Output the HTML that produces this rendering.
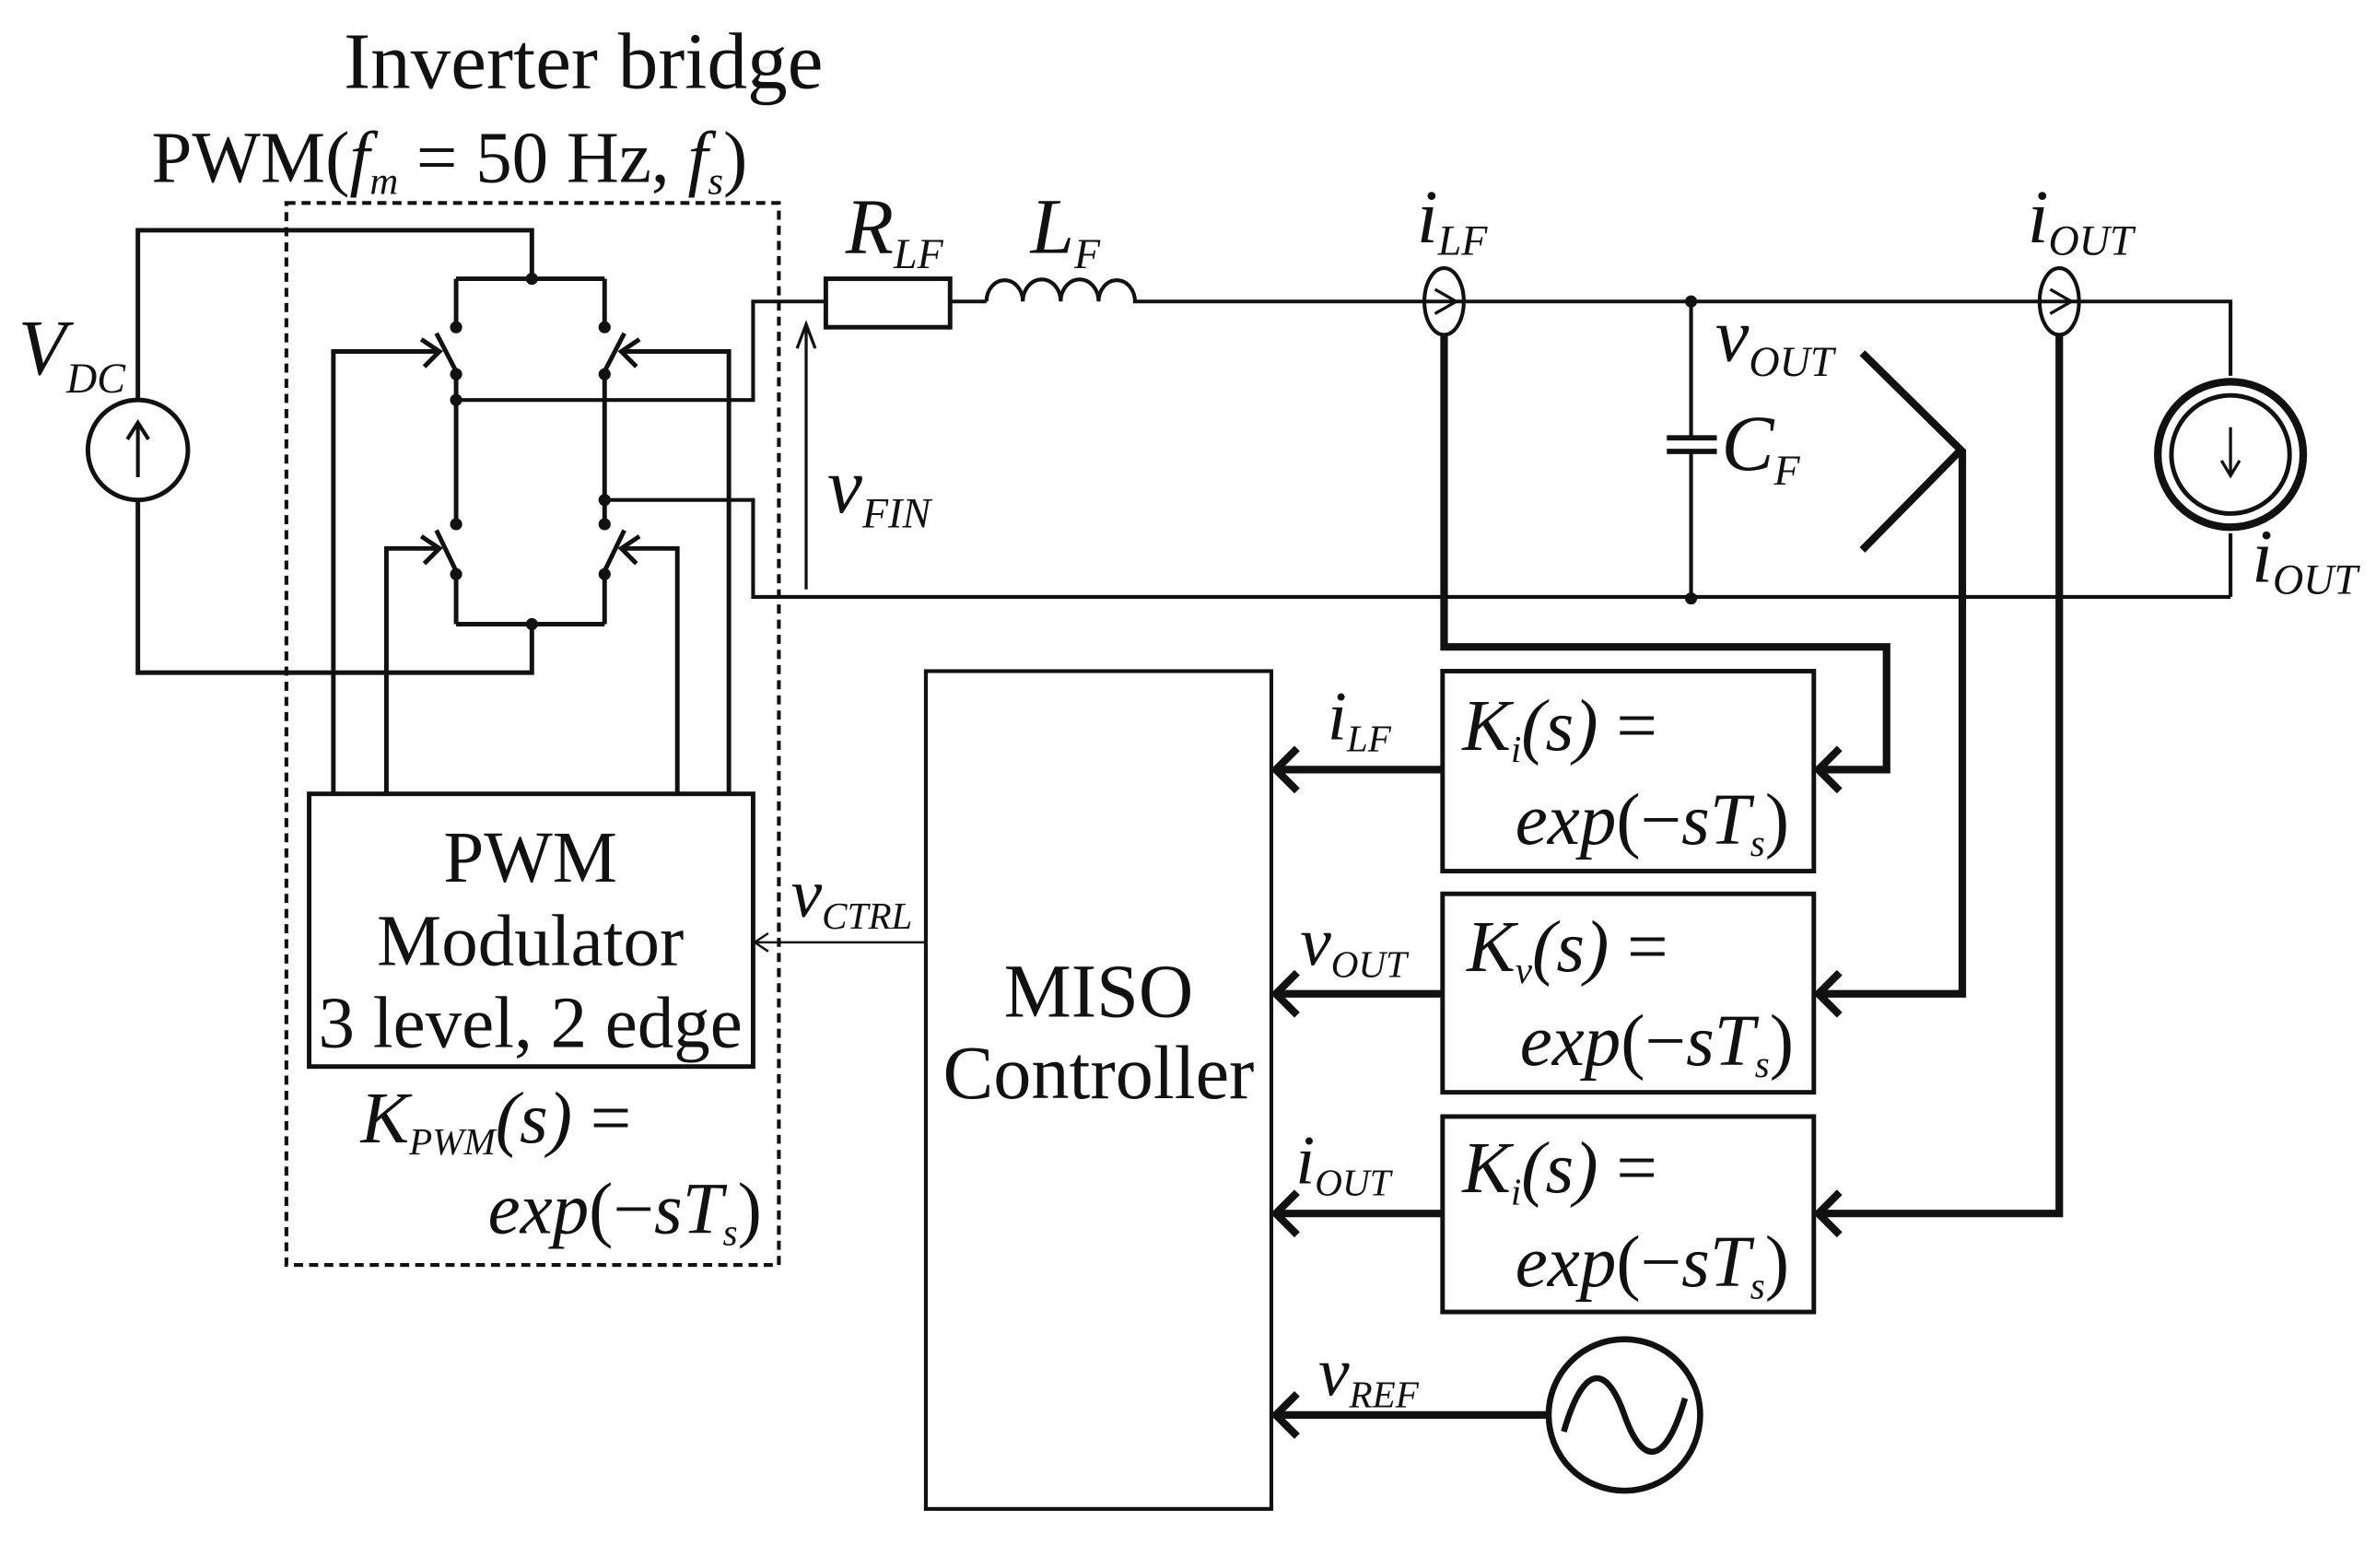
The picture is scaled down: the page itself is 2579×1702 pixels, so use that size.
<!DOCTYPE html>
<html><head><meta charset="utf-8"><style>
html,body{margin:0;padding:0;background:#fff;}
svg{display:block;}
text{font-family:"Liberation Serif","Times New Roman",serif;fill:#111;}
.i{font-style:italic;}
</style></head><body>
<svg width="2579" height="1702" viewBox="0 0 1568 1035" preserveAspectRatio="none" xmlns="http://www.w3.org/2000/svg">
<rect width="1568" height="1035" fill="#fff"/>
<g fill="none" stroke="#111" stroke-width="3">
<rect x="189" y="134" width="325" height="701" stroke-dasharray="6,4" stroke-width="2.5"/>
<circle cx="91" cy="297" r="33"/>
<path d="M91 264 V152 H351 V184 M91 330 V444 H351 V412"/>
<path d="M91 315 V280 M84 290 L91 279 L98 290" stroke-width="2.5"/>
<path d="M301 184 H399 M301 184 V216 M399 184 V216 M301 412 H399 M301 379 V412 M399 379 V412"/>
<path d="M301 247 V346 M399 247 V346"/>
<path d="M288 220 L302 247 M412 220 L398 247 M288 350 L302 379 M412 350 L398 379"/>
<path d="M220 524 V232 H290 M278 224 L290 232 L280 242"/>
<path d="M255 524 V362 H290 M278 354 L290 362 L280 372"/>
<path d="M481 524 V232 H410 M422 224 L410 232 L420 242"/>
<path d="M447 524 V362 H410 M422 354 L410 362 L420 372"/>
<path d="M301 264 H497 V199 H545" stroke-width="2.5"/>
<path d="M399 330 H497 V394 H1472" stroke-width="2.5"/>
<rect x="545" y="184" width="82" height="32"/>
<path d="M627 199 H651 M651 199 a12 14 0 0 1 24 0 a12 14 0 0 1 25 0 a12 14 0 0 1 25 0 a12 14 0 0 1 24 0 H1472 V248" stroke-width="2.5"/>
<path d="M532 389 V216 M526 230 L532 214 L538 230" stroke-width="2"/>
<ellipse cx="953" cy="199" rx="13" ry="22" stroke-width="2.5"/>
<path d="M947 191 L961 199 L947 207" stroke-width="2"/>
<ellipse cx="1359" cy="199" rx="13" ry="22" stroke-width="2.5"/>
<path d="M1353 191 L1367 199 L1353 207" stroke-width="2"/>
<path d="M1116 199 V289 M1116 298 V395" stroke-width="2.5"/>
<path d="M1100 289 H1133 M1100 298 H1133" stroke-width="3.5"/>
<circle cx="1472" cy="300" r="48" stroke-width="5"/>
<circle cx="1472" cy="300" r="39" stroke-width="3"/>
<path d="M1472 352 V394" stroke-width="2.5"/>
<path d="M1472 282 V312 M1466 304 L1472 314 L1478 304" stroke-width="2"/>
<g stroke-width="5">
<path d="M1229 233 L1294 297 L1229 363"/>
<path d="M953 221 V427 H1245 V508 H1200"/>
<path d="M1214 494 L1200 508 L1214 522"/>
<path d="M1295 297 V656 H1200 M1214 642 L1200 656 L1214 670"/>
<path d="M1359 221 V801 H1200 M1214 787 L1200 801 L1214 815"/>
<path d="M952 508 H842 M856 494 L842 508 L856 522"/>
<path d="M952 656 H842 M856 642 L842 656 L856 670"/>
<path d="M952 801 H842 M856 787 L842 801 L856 815"/>
<path d="M1022 934 H842 M856 920 L842 934 L856 948"/>
</g>
<circle cx="1072" cy="934" r="50" stroke-width="4"/>
<path d="M1032 945 C1045 900 1060 900 1072 934 C1084 968 1099 968 1112 923" stroke-width="4"/>
<rect x="204" y="524" width="293" height="180"/>
<rect x="611" y="443" width="228" height="553" stroke-width="2.5"/>
<rect x="952" y="443" width="245" height="132"/>
<rect x="952" y="590" width="245" height="131"/>
<rect x="952" y="737" width="245" height="129"/>
<path d="M611 622 H499 M507 616 L498 622 L507 628" stroke-width="1.5"/>
</g>
<g fill="#111">
<circle cx="351" cy="184" r="4"/><circle cx="351" cy="412" r="4"/>
<circle cx="301" cy="216" r="4"/><circle cx="301" cy="247" r="4"/><circle cx="301" cy="264" r="4"/>
<circle cx="301" cy="346" r="4"/><circle cx="301" cy="379" r="4"/>
<circle cx="399" cy="216" r="4"/><circle cx="399" cy="247" r="4"/><circle cx="399" cy="330" r="4"/>
<circle cx="399" cy="346" r="4"/><circle cx="399" cy="379" r="4"/>
<circle cx="1116" cy="199" r="4"/><circle cx="1116" cy="395" r="4"/>
</g>
<text x="385" y="58" font-size="53" text-anchor="middle">Inverter bridge</text>
<text x="100" y="120" font-size="48">PWM(<tspan class="i">f</tspan><tspan class="i" font-size="26" dy="8">m</tspan><tspan dy="-8"> = 50 Hz, </tspan><tspan class="i">f</tspan><tspan class="i" font-size="26" dy="8">s</tspan><tspan dy="-8">)</tspan></text>
<text x="12" y="247" font-size="52" class="i">V<tspan font-size="28" dy="12">DC</tspan></text>
<text x="558" y="167" font-size="52" class="i">R<tspan font-size="28" dy="10">LF</tspan></text>
<text x="680" y="167" font-size="52" class="i">L<tspan font-size="28" dy="10">F</tspan></text>
<text x="546" y="338" font-size="52" class="i">v<tspan font-size="28" dy="10">FIN</tspan></text>
<text x="935" y="160" font-size="50" class="i">i<tspan font-size="28" dy="8">LF</tspan></text>
<text x="1338" y="160" font-size="50" class="i">i<tspan font-size="28" dy="8">OUT</tspan></text>
<text x="1132" y="238" font-size="50" class="i">v<tspan font-size="28" dy="10">OUT</tspan></text>
<text x="1136" y="310" font-size="52" class="i">C<tspan font-size="28" dy="10">F</tspan></text>
<text x="1486" y="384" font-size="50" class="i">i<tspan font-size="28" dy="8">OUT</tspan></text>
<text x="350" y="582" font-size="48" text-anchor="middle">PWM</text>
<text x="350" y="637" font-size="48" text-anchor="middle">Modulator</text>
<text x="350" y="691" font-size="48" text-anchor="middle">3 level, 2 edge</text>
<text x="238" y="754" font-size="48" class="i">K<tspan font-size="25" dy="8">PWM</tspan><tspan dy="-8">(s) </tspan><tspan font-style="normal">=</tspan></text>
<text x="322" y="814" font-size="48" class="i">exp<tspan font-style="normal">(−</tspan>sT<tspan font-size="25" dy="8">s</tspan><tspan font-style="normal" dy="-8">)</tspan></text>
<text x="522" y="605" font-size="46" class="i">v<tspan font-size="25" dy="8">CTRL</tspan></text>
<text x="725" y="671" font-size="50" text-anchor="middle">MISO</text>
<text x="725" y="725" font-size="50" text-anchor="middle">Controller</text>
<text x="876" y="488" font-size="46" class="i">i<tspan font-size="25" dy="8">LF</tspan></text>
<text x="858" y="637" font-size="46" class="i">v<tspan font-size="25" dy="8">OUT</tspan></text>
<text x="855" y="781" font-size="46" class="i">i<tspan font-size="25" dy="8">OUT</tspan></text>
<text x="870" y="921" font-size="46" class="i">v<tspan font-size="25" dy="8">REF</tspan></text>
<text x="965" y="495" font-size="48" class="i">K<tspan font-size="25" dy="8">i</tspan><tspan dy="-8">(s) </tspan><tspan font-style="normal">=</tspan></text>
<text x="1000" y="557" font-size="48" class="i">exp<tspan font-style="normal">(−</tspan>sT<tspan font-size="25" dy="8">s</tspan><tspan font-style="normal" dy="-8">)</tspan></text>
<text x="968" y="641" font-size="48" class="i">K<tspan font-size="25" dy="8">v</tspan><tspan dy="-8">(s) </tspan><tspan font-style="normal">=</tspan></text>
<text x="1003" y="703" font-size="48" class="i">exp<tspan font-style="normal">(−</tspan>sT<tspan font-size="25" dy="8">s</tspan><tspan font-style="normal" dy="-8">)</tspan></text>
<text x="965" y="787" font-size="48" class="i">K<tspan font-size="25" dy="8">i</tspan><tspan dy="-8">(s) </tspan><tspan font-style="normal">=</tspan></text>
<text x="1000" y="849" font-size="48" class="i">exp<tspan font-style="normal">(−</tspan>sT<tspan font-size="25" dy="8">s</tspan><tspan font-style="normal" dy="-8">)</tspan></text>
</svg>
</body></html>
